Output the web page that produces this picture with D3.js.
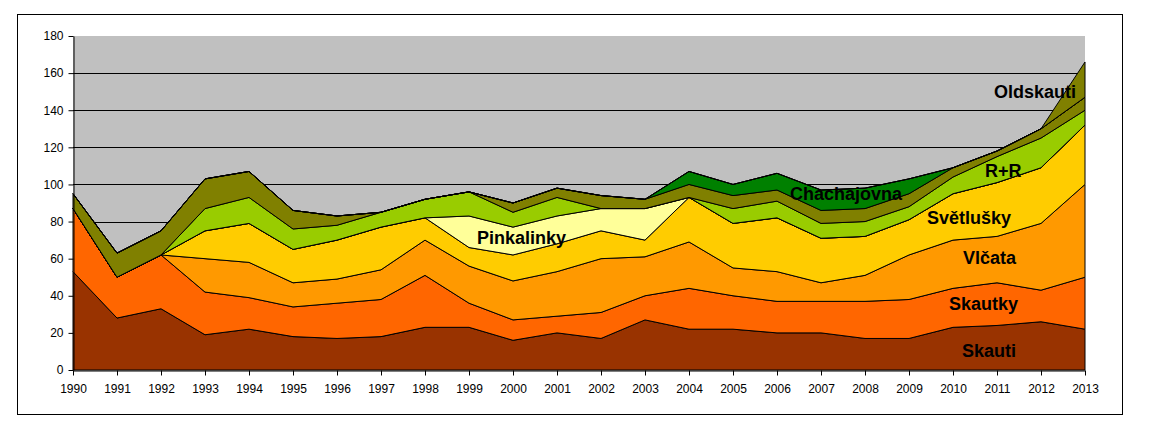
<!DOCTYPE html>
<html>
<head>
<meta charset="utf-8">
<script src="https://cdn.jsdelivr.net/npm/d3@7"></script>
<style>
  html, body { margin: 0; padding: 0; background: #fff; }
  svg { display: block; }
</style>
</head>
<body>
<svg id="chart" width="1150" height="436"></svg>
<script>
// ---- data ----
const years = [1990,1991,1992,1993,1994,1995,1996,1997,1998,1999,2000,2001,2002,2003,2004,2005,2006,2007,2008,2009,2010,2011,2012,2013];
const skauti      = [53,28,33,19,22,18,17,18,23,23,16,20,17,27,22,22,20,20,17,17,23,24,26,22];
const skautky     = [34,22,29,23,17,16,19,20,28,13,11, 9,14,13,22,18,17,17,20,21,21,23,17,28];
const vlcata      = [ 0, 0, 0,18,19,13,13,16,19,20,21,24,29,21,25,15,16,10,14,24,26,25,36,50];
const svetlusky   = [ 0, 0, 0,15,21,18,21,23,12,10,14,15,15, 9,24,24,29,24,21,19,25,29,30,32];
const pinkalinky  = [ 0, 0, 0, 0, 0, 0, 0, 0, 0,17,15,15,12,17, 0, 0, 0, 0, 0, 0, 0, 0, 0, 0];
const rr          = [ 0, 0, 0,12,14,11, 8, 8,10,13, 8,10, 0, 0, 0, 8, 9, 8, 8, 7, 9,14,16, 8];
const ostatni     = [ 8,13,13,16,14,10, 5, 0, 0, 0, 5, 5, 7, 5, 7, 7, 6, 7, 7, 7, 5, 3, 5, 7];
const chachajovna = [ 0, 0, 0, 0, 0, 0, 0, 0, 0, 0, 0, 0, 0, 0, 7, 6, 9,11,11, 8, 0, 0, 0, 0];
const oldskauti   = [ 0, 0, 0, 0, 0, 0, 0, 0, 0, 0, 0, 0, 0, 0, 0, 0, 0, 0, 0, 0, 0, 0, 0,19];
const yTicks = [0,20,40,60,80,100,120,140,160,180];

const seriesNames = ["Skauti","Skautky","Vlčata","Světlušky","Pinkalinky","R+R","Ostatní","Chachajovna","Oldskauti"];
const seriesValues = [skauti,skautky,vlcata,svetlusky,pinkalinky,rr,ostatni,chachajovna,oldskauti];
const seriesColors = ["#993300","#FF6600","#FF9900","#FFCC00","#FFFF99","#99CC00","#808000","#008000","#808000"];

// labels drawn on chart: [text, x, baseline y]
const labelTexts = ["Pinkalinky","Chachajovna","Oldskauti","R+R","Světlušky","Vlčata","Skautky","Skauti"];
const labelPos = [[477,244],[790,200],[994,98],[985,177],[927,224],[963,264],[949,310],[962,357]];

// ---- build ----
const svg = d3.select("#chart");
const pLeft = 73, pRight = 1085, pTop = 36, pBottom = 370;

const x = d3.scalePoint().domain(years).range([pLeft, pRight]);
const y = d3.scaleLinear().domain([0, 180]).range([pBottom, pTop]);

const table = years.map((yr, i) => {
  const row = { year: yr };
  seriesNames.forEach((n, k) => row[n] = seriesValues[k][i]);
  return row;
});
const stacked = d3.stack().keys(seriesNames)(table);

// outer frame
svg.append("rect").attr("x", 17.5).attr("y", 14.5).attr("width", 1105).attr("height", 400)
  .attr("fill", "#fff").attr("stroke", "#000").attr("stroke-width", 1);

// plot background
svg.append("rect").attr("x", pLeft).attr("y", pTop).attr("width", pRight - pLeft).attr("height", pBottom - pTop)
  .attr("fill", "#C0C0C0");

// gridlines
svg.append("g").selectAll("line").data(yTicks.filter(t => t > 0 && t < 180)).join("line")
  .attr("x1", pLeft).attr("x2", pRight)
  .attr("y1", d => Math.round(y(d)) + 0.5).attr("y2", d => Math.round(y(d)) + 0.5)
  .attr("stroke", "#000").attr("stroke-width", 1);

// areas
const area = d3.area()
  .x(d => x(d.data.year))
  .y0(d => y(d[0]))
  .y1(d => y(d[1]));

svg.append("g").selectAll("path").data(stacked).join("path")
  .attr("d", area)
  .attr("fill", (d, i) => seriesColors[i])
  .attr("stroke", "#000")
  .attr("stroke-width", 1)
  .attr("stroke-linejoin", "round");

// axes
const xAxis = d3.axisBottom(x).tickSize(5).tickSizeOuter(0);
const gx = svg.append("g").attr("transform", `translate(0,${pBottom + 0.5})`).call(xAxis);
gx.select(".domain").attr("stroke", "#000");
gx.selectAll(".tick line").attr("stroke", "#000");
gx.selectAll("text").attr("font-family", "Liberation Sans, Arial, sans-serif").attr("font-size", 12)
  .attr("fill", "#000").attr("dy", null).attr("y", 22);

const yAxis = d3.axisLeft(y).tickValues(yTicks).tickSize(5).tickSizeOuter(0);
const gy = svg.append("g").attr("transform", `translate(${pLeft + 0.5},0)`).call(yAxis);
gy.select(".domain").attr("stroke", "#000");
gy.selectAll(".tick line").attr("stroke", "#000");
gy.selectAll("text").attr("font-family", "Liberation Sans, Arial, sans-serif").attr("font-size", 12)
  .attr("fill", "#000").attr("x", -10);

// labels
svg.append("g").selectAll("text").data(labelTexts).join("text")
  .attr("x", (d, i) => labelPos[i][0])
  .attr("y", (d, i) => labelPos[i][1])
  .attr("font-family", "Liberation Sans, Arial, sans-serif")
  .attr("font-weight", "bold")
  .attr("font-size", 18)
  .attr("fill", "#000")
  .text(d => d);
</script>
</body>
</html>
